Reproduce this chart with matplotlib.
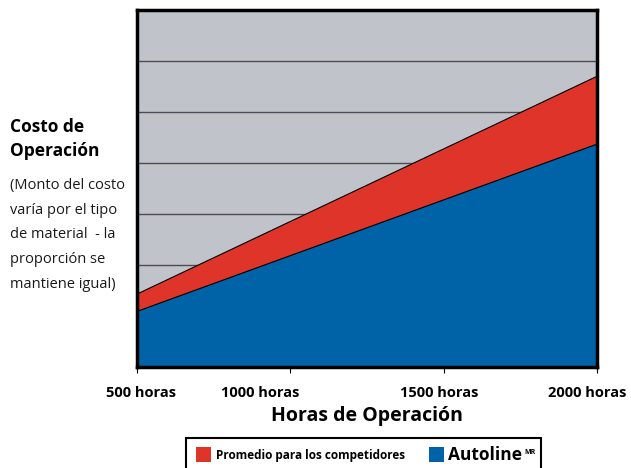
import matplotlib
matplotlib.use("Agg")
import matplotlib.pyplot as plt
import matplotlib.transforms as mtransforms
from matplotlib.patches import Rectangle

plt.rcParams['font.family'] = ['Open Sans', 'DejaVu Sans']

# data (arbitrary cost units)
hours = [500, 2000]
autoline_cost = [1.09, 4.37]
competitor_cost = [1.43, 5.70]
tick_hours = [500, 1000, 1500, 2000]
tick_labels = ['500 horas', '1000 horas', '1500 horas', '2000 horas']
label_shift_px = [4, -30, -4, -10]
grid_levels = [1, 2, 3, 4, 5, 6]

GRAY = '#c0c3ca'
RED = '#df3429'
BLUE = '#0063a7'

fig = plt.figure(figsize=(6.31, 4.68), dpi=100)
ax = fig.add_axes([137 / 631, 1 - 367 / 468, 460 / 631, 357 / 468])
ax.set_facecolor(GRAY)

for g in grid_levels:
    ax.axhline(g, color='#4d4d4d', linewidth=1.0, zorder=0.3)

# fills stay under the spines (zorder 2.5)
ax.fill_between(hours, 0, competitor_cost, color=RED, zorder=0.5)
ax.fill_between(hours, 0, autoline_cost, color=BLUE, zorder=0.6)
ax.plot(hours, competitor_cost, color='black', linewidth=0.8, zorder=0.8)
ax.plot(hours, autoline_cost, color='black', linewidth=0.8, zorder=0.8)

ax.set_xlim(500, 2000)
ax.set_ylim(0, 7)
ax.set_yticks([])

ax.set_xticks(tick_hours)
ax.set_xticklabels(tick_labels, fontsize=10.5, fontweight='bold')
ax.tick_params(axis='x', length=4, width=0.8, pad=10)
for lab, dx in zip(ax.get_xticklabels(), label_shift_px):
    lab.set_transform(lab.get_transform() +
                      mtransforms.ScaledTranslation(dx / 100, 0, fig.dpi_scale_trans))

for side in ['left', 'bottom', 'top', 'right']:
    ax.spines[side].set_linewidth(2.5)

ax.set_xlabel('Horas de Operación', fontsize=14, fontweight='bold', labelpad=4)

# left-side axis description
fig.text(10 / 631, 1 - 127 / 468, 'Costo de', fontsize=12.5, fontweight='bold', va='center')
fig.text(10 / 631, 1 - 151 / 468, 'Operación', fontsize=12.5, fontweight='bold', va='center')
note_lines = ['(Monto del costo', 'varía por el tipo', 'de material  - la',
              'proporción se', 'mantiene igual)']
for i, line in enumerate(note_lines):
    fig.text(10 / 631, 1 - (186 + 24.5 * i) / 468, line, fontsize=10.5, va='center',
             color='#1a1a1a')

# legend box (runs off the bottom edge like the reference)
fig.add_artist(Rectangle((186 / 631, -0.02), 355 / 631, (468 - 438) / 468 + 0.02,
                         transform=fig.transFigure, facecolor='white',
                         edgecolor='black', linewidth=1.5))
fig.add_artist(Rectangle((196 / 631, 1 - 462 / 468), 15 / 631, 15 / 468,
                         transform=fig.transFigure, facecolor=RED, edgecolor='none'))
fig.text(216 / 631, 1 - 455 / 468, 'Promedio para los competidores', fontsize=8.5,
         fontweight='bold', va='center')
fig.add_artist(Rectangle((429 / 631, 1 - 462 / 468), 15 / 631, 15 / 468,
                         transform=fig.transFigure, facecolor=BLUE, edgecolor='none'))
fig.text(448 / 631, 1 - 455 / 468, 'Autoline', fontsize=12.5, fontweight='bold', va='center')
fig.text(524 / 631, 1 - 452 / 468, 'MR', fontsize=5, fontweight='bold', va='center')

fig.savefig('out.png', dpi=100)
